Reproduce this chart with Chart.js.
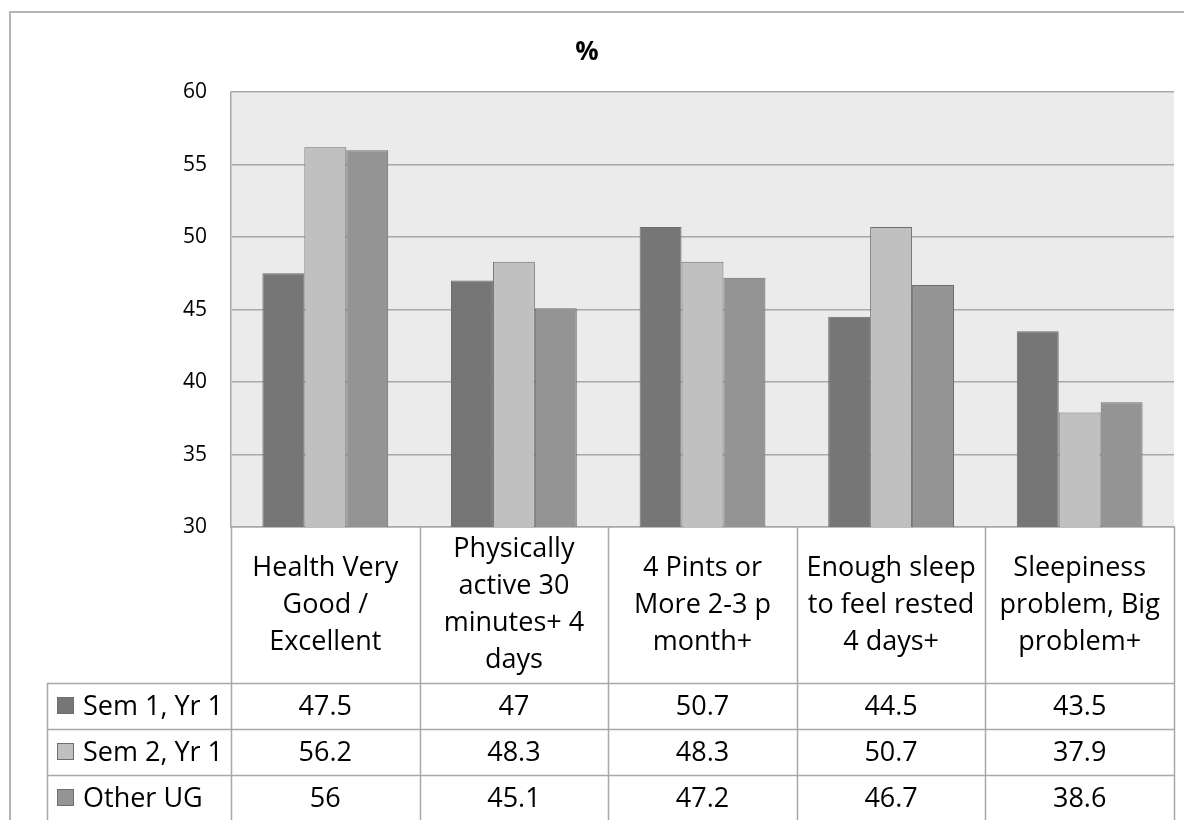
<!DOCTYPE html>
<html>
<head>
<meta charset="utf-8">
<script src="https://cdn.jsdelivr.net/npm/chart.js@4/dist/chart.umd.min.js"></script>
<style>
  html, body { margin: 0; padding: 0; background: #fff; }
  #wrap { position: relative; width: 1184px; height: 820px; overflow: hidden; }
</style>
</head>
<body>
<div id="wrap"><canvas id="healthChart" width="1184" height="820"></canvas></div>
<script>
// data
const categories = [
    ['Health Very', 'Good /', 'Excellent'],
    ['Physically', 'active 30', 'minutes+ 4', 'days'],
    ['4 Pints or', 'More 2-3 p', 'month+'],
    ['Enough sleep', 'to feel rested', '4 days+'],
    ['Sleepiness', 'problem, Big', 'problem+']
];
const seriesNames = ['Sem 1, Yr 1', 'Sem 2, Yr 1', 'Other UG'];
const sem1Yr1 = [47.5, 47, 50.7, 44.5, 43.5];
const sem2Yr1 = [56.2, 48.3, 48.3, 50.7, 37.9];
const otherUG = [56, 45.1, 47.2, 46.7, 38.6];
const yTicks = [30, 35, 40, 45, 50, 55, 60];

const seriesColors = ['#767676', '#c0c0c0', '#949494'];
const edgeColor = '#6e6e6e';
const lineColor = '#a8a8a8';
const fontFamily = "'Open Sans', sans-serif";

// 表格尺寸
const headerHeight = 156;
const rowHeight = 46;
const tableLeft = 47;

// 背景與外框
const backdropPlugin = {
    id: 'backdrop',
    beforeDraw(chart) {
        const { ctx, chartArea } = chart;
        ctx.save();
        ctx.fillStyle = '#ebebeb';
        ctx.fillRect(chartArea.left, chartArea.top, chartArea.right - chartArea.left, chartArea.bottom - chartArea.top);
        ctx.strokeStyle = '#b4b4b4';
        ctx.lineWidth = 2;
        ctx.strokeRect(10, 12, chart.width + 20, chart.height + 20);
        ctx.restore();
    }
};

// 資料表
const dataTablePlugin = {
    id: 'dataTable',
    afterDraw(chart) {
        const { ctx, chartArea } = chart;
        const x = chart.scales.x;
        const half = (x.getPixelForValue(1) - x.getPixelForValue(0)) / 2;
        const top = chartArea.bottom;
        const bottom = chart.height + 5;
        const rows = [sem1Yr1, sem2Yr1, otherUG];

        ctx.save();
        ctx.strokeStyle = lineColor;
        ctx.lineWidth = 1.5;

        // 直線
        ctx.beginPath();
        for (let i = 0; i <= categories.length; i++) {
            const px = Math.round(x.getPixelForValue(i) - half) + 0.5;
            ctx.moveTo(px, top);
            ctx.lineTo(px, bottom);
        }
        ctx.moveTo(tableLeft + 0.5, top + headerHeight);
        ctx.lineTo(tableLeft + 0.5, bottom);
        // 橫線
        for (let r = 0; r <= rows.length; r++) {
            const py = Math.round(top + headerHeight + r * rowHeight) + 0.5;
            ctx.moveTo(tableLeft, py);
            ctx.lineTo(chartArea.right, py);
        }
        ctx.stroke();

        ctx.fillStyle = '#000';
        ctx.font = '27px ' + fontFamily;
        ctx.textAlign = 'center';
        ctx.textBaseline = 'middle';

        // 類別標題
        const lineH = 37;
        categories.forEach((lines, i) => {
            const cx = x.getPixelForValue(i);
            const startY = top + headerHeight / 2 - (lines.length - 1) * lineH / 2;
            lines.forEach((line, j) => {
                ctx.fillText(line, cx, startY + j * lineH);
            });
        });

        // 數值與圖例
        rows.forEach((values, r) => {
            const cy = top + headerHeight + r * rowHeight + rowHeight / 2;
            ctx.fillStyle = seriesColors[r];
            ctx.fillRect(57, cy - 9, 17, 17);
            ctx.strokeStyle = edgeColor;
            ctx.lineWidth = 1;
            ctx.strokeRect(57.5, cy - 8.5, 16, 16);

            ctx.fillStyle = '#000';
            ctx.textAlign = 'left';
            ctx.fillText(seriesNames[r], 83, cy + 1);
            ctx.textAlign = 'center';
            values.forEach((v, i) => {
                ctx.fillText(String(v), x.getPixelForValue(i), cy + 1);
            });
        });
        ctx.restore();
    }
};

const canvas = document.getElementById('healthChart');
new Chart(canvas, {
    type: 'bar',
    data: {
        labels: categories.map(c => c.join(' ')),
        datasets: [sem1Yr1, sem2Yr1, otherUG].map((values, i) => ({
            label: seriesNames[i],
            data: values,
            backgroundColor: seriesColors[i],
            borderColor: edgeColor,
            borderWidth: 1,
            borderSkipped: 'bottom',
            categoryPercentage: 0.667,
            barPercentage: 1
        }))
    },
    options: {
        responsive: false,
        animation: false,
        layout: {
            padding: { left: 0, right: 10, top: 0, bottom: 285 }
        },
        plugins: {
            legend: { display: false },
            tooltip: { enabled: false },
            title: {
                display: true,
                text: '%',
                color: '#000',
                font: { size: 26, weight: 'bold', family: fontFamily },
                padding: { top: 37, bottom: 24 }
            }
        },
        scales: {
            x: {
                ticks: { display: false },
                grid: { display: false },
                border: { display: true, color: lineColor, width: 1.5 }
            },
            y: {
                min: 30,
                max: 60,
                afterFit(axis) { axis.width = 231; },
                afterBuildTicks(axis) { axis.ticks = yTicks.map(v => ({ value: v })); },
                ticks: {
                    color: '#000',
                    padding: 24,
                    font: { size: 21, family: fontFamily }
                },
                grid: { color: lineColor, lineWidth: 1.5, drawTicks: false },
                border: { display: true, color: lineColor, width: 1.5 }
            }
        }
    },
    plugins: [backdropPlugin, dataTablePlugin]
});
</script>
</body>
</html>
